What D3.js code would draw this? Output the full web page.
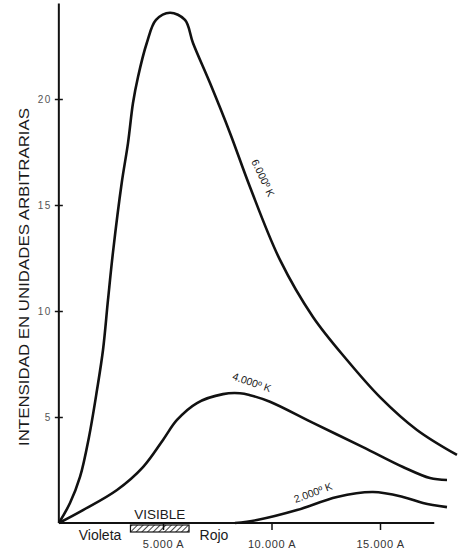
<!DOCTYPE html>
<html>
<head>
<meta charset="utf-8">
<script src="https://cdn.jsdelivr.net/npm/d3@7"></script>
<style>
  body { margin: 0; background: #fff; }
  svg text { font-family: "Liberation Sans", Arial, sans-serif; fill: #1a1a1a; }
</style>
</head>
<body>
<div id="chart"></div>
<script>
// wavelength (A) / intensity
var wl6000 = [200, 714, 1175, 1590, 1958, 2235, 2465, 2696, 3097, 3387, 3617, 3848, 4249, 4677, 5322, 6013, 6382, 7166, 8087, 9009, 10391, 11912, 13479, 14999, 16704, 18547];
var int6000 = [0, 0.94, 2.17, 4.06, 6.27, 8.16, 10.52, 12.78, 16.04, 17.92, 19.81, 21.04, 22.63, 23.73, 24.07, 23.73, 22.64, 20.75, 18.4, 15.85, 12.41, 9.72, 7.69, 5.94, 4.39, 3.21];

var wl4000 = [200, 1313, 2880, 4078, 5000, 5645, 6566, 7764, 8548, 9009, 9930, 11912, 14216, 16059, 17303, 18087];
var int4000 = [0, 0.61, 1.56, 2.64, 3.92, 4.86, 5.66, 6.08, 6.12, 6.03, 5.72, 4.72, 3.58, 2.64, 2.12, 2.03];

var wl2000 = [8317, 9331, 11174, 13018, 14677, 16059, 16980, 18087];
var int2000 = [0, 0.14, 0.61, 1.23, 1.46, 1.23, 0.94, 0.75];

var curveNames = ["6.000º K", "4.000º K", "2.000º K"];
var yTicks = [5, 10, 15, 20];
var xTicks = [5000, 10000, 15000];
var xTickLabels = ["5.000 A", "10.000 A", "15.000 A"];
var visibleRange = [3500, 6200];

var svgWidth = 465;
var svgHeight = 550;

var svg = d3.select("#chart")
    .append("svg")
    .attr("width", svgWidth)
    .attr("height", svgHeight);

var x = d3.scaleLinear()
    .domain([0, 18000])
    .range([54.5, 445.1]);

var y = d3.scaleLinear()
    .domain([0, 24])
    .range([523, 14.2]);

// hatch pattern for the visible band
var defs = svg.append("defs");
var pat = defs.append("pattern")
    .attr("id", "hatch")
    .attr("patternUnits", "userSpaceOnUse")
    .attr("width", 4)
    .attr("height", 4)
    .attr("patternTransform", "rotate(45)");
pat.append("line")
    .attr("x1", 0).attr("y1", 0)
    .attr("x2", 0).attr("y2", 4)
    .attr("stroke", "#111")
    .attr("stroke-width", 1.6);

// y title
svg.append("text")
    .attr("transform", "translate(29, 277) rotate(-90)")
    .attr("text-anchor", "middle")
    .attr("font-size", 15.5)
    .attr("textLength", 338)
    .attr("lengthAdjust", "spacingAndGlyphs")
    .text("INTENSIDAD EN UNIDADES ARBITRARIAS");

// axes
var leftAxis = d3.axisLeft(y).tickValues(yTicks).tickSize(4).tickPadding(3);
var gy = svg.append("g")
    .attr("transform", `translate(${x(200)}, 0)`)
    .call(leftAxis);
gy.select(".domain").remove();
gy.selectAll(".tick line")
    .attr("x1", -4).attr("x2", 4)
    .attr("stroke", "#111")
    .attr("stroke-width", 1.5);
gy.selectAll(".tick text")
    .attr("font-size", 10)
    .attr("letter-spacing", 1.5)
    .style("fill", "#555");

var bottomAxis = d3.axisBottom(x)
    .tickValues(xTicks)
    .tickSize(7)
    .tickPadding(10)
    .tickFormat((d, i) => xTickLabels[i]);
var gx = svg.append("g")
    .attr("transform", `translate(0, ${y(0)})`)
    .call(bottomAxis);
gx.select(".domain").remove();
gx.selectAll(".tick line")
    .attr("stroke", "#111")
    .attr("stroke-width", 1.5);
gx.selectAll(".tick text")
    .attr("font-size", 11)
    .attr("letter-spacing", 0.6)
    .style("fill", "#333");

svg.append("line")
    .attr("x1", x(200)).attr("x2", x(200))
    .attr("y1", y(0)).attr("y2", y(24.5))
    .attr("stroke", "#111")
    .attr("stroke-width", 2);

svg.append("line")
    .attr("x1", x(200)).attr("x2", x(17500))
    .attr("y1", y(0)).attr("y2", y(0))
    .attr("stroke", "#111")
    .attr("stroke-width", 2);

// visible band
svg.append("rect")
    .attr("x", x(visibleRange[0]))
    .attr("y", y(0) + 2)
    .attr("width", x(visibleRange[1]) - x(visibleRange[0]))
    .attr("height", 7)
    .attr("fill", "url(#hatch)")
    .attr("stroke", "#111")
    .attr("stroke-width", 1.2);

// curves
var line = d3.line()
    .x(d => x(d[0]))
    .y(d => y(d[1]))
    .curve(d3.curveCatmullRom.alpha(0.5));

var series = [
  d3.zip(wl6000, int6000),
  d3.zip(wl4000, int4000),
  d3.zip(wl2000, int2000)
];

svg.selectAll(".curve")
    .data(series)
    .enter()
    .append("path")
    .attr("class", "curve")
    .attr("d", line)
    .attr("fill", "none")
    .attr("stroke", "#111")
    .attr("stroke-width", 2.6);

// curve labels
var labelPos = [
  { wl: 9250, v: 16.1, angle: 64.5, dy: -5 },
  { wl: 8950, v: 6.2, angle: 19, dy: -6 },
  { wl: 12050, v: 1.05, angle: -20, dy: -5 }
];
svg.selectAll(".clabel")
    .data(curveNames)
    .enter()
    .append("text")
    .attr("class", "clabel")
    .attr("transform", (d, i) => `translate(${x(labelPos[i].wl)}, ${y(labelPos[i].v)}) rotate(${labelPos[i].angle})`)
    .attr("dy", (d, i) => labelPos[i].dy)
    .attr("text-anchor", "middle")
    .attr("font-size", 10.5)
    .text(d => d);

svg.append("text")
    .attr("x", x(2100))
    .attr("y", 540)
    .attr("text-anchor", "middle")
    .attr("font-size", 14)
    .text("Violeta");

svg.append("text")
    .attr("x", x(7350))
    .attr("y", 540)
    .attr("text-anchor", "middle")
    .attr("font-size", 14)
    .text("Rojo");

svg.append("text")
    .attr("x", x(4850))
    .attr("y", 519)
    .attr("text-anchor", "middle")
    .attr("font-size", 13.5)
    .text("VISIBLE");
</script>
</body>
</html>
